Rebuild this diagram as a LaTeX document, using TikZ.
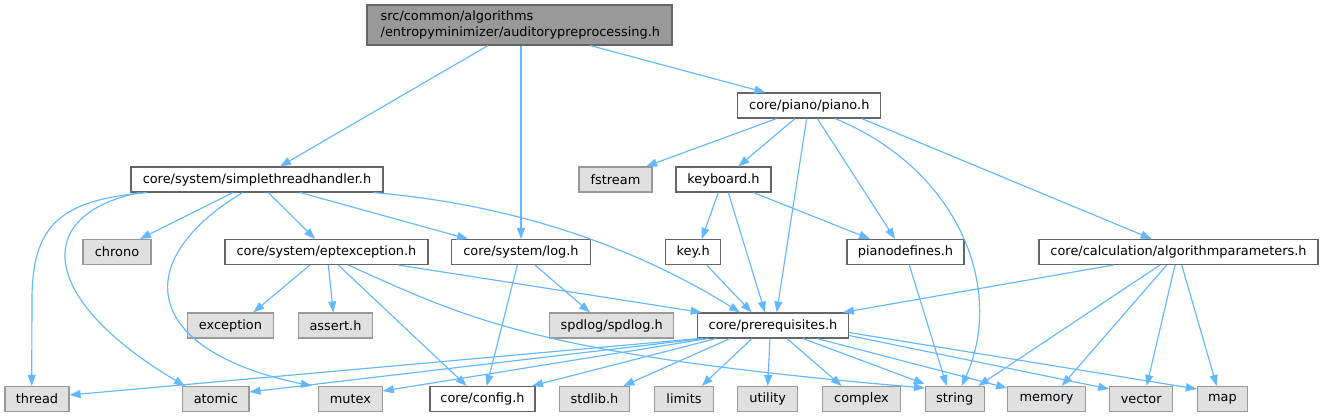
\documentclass[tikz,border=0pt]{standalone}
\usepackage{fontspec}
\setmainfont{DejaVu Sans}
\usetikzlibrary{arrows.meta}
\definecolor{edgec}{HTML}{63B8FF}
\definecolor{boxline}{HTML}{666666}
\definecolor{sysline}{HTML}{999999}
\definecolor{sysfill}{HTML}{E0E0E0}
\definecolor{rootfill}{HTML}{999999}
\begin{document}
\begin{tikzpicture}[x=1pt,y=-1pt,
  font=\fontsize{12.9}{15.5}\selectfont,
  box/.style={draw=boxline, fill=white, line width=1.1pt, minimum height=25pt, inner sep=0pt, anchor=center},
  sys/.style={box, draw=sysline, fill=sysfill},
  rootbox/.style={box, fill=rootfill, minimum height=40pt},
  dep/.style={draw=edgec, line width=1.15pt, -{Triangle[length=11pt,width=8pt]}}]
\fill[white] (0,0) rectangle (1323,417);
\useasboundingbox (0,0) rectangle (1323,417);
% nodes
\node[rootbox, minimum width=305pt] (root) at (519.5,25) {};
\node[anchor=west, align=left, inner sep=0pt] (roottext) at (380.5,25) {src/common/algorithms\\/entropyminimizer/auditorypreprocessing.h};
\node[box, minimum width=143pt] (piano) at (809.3,105.5) {core/piano/piano.h};
\node[box, minimum width=252pt] (sth) at (257,179.5) {core/system/simplethreadhandler.h};
\node[sys, minimum width=73pt] (fstream) at (615.5,179.5) {fstream};
\node[box, minimum width=95pt] (keyboard) at (723.5,179.5) {keyboard.h};
\node[sys, minimum width=68pt] (chrono) at (117,252) {chrono};
\node[box, minimum width=203pt] (ept) at (326.5,252) {core/system/eptexception.h};
\node[box, minimum width=138.6pt] (log) at (521,252) {core/system/log.h};
\node[box, minimum width=55pt] (key) at (693.2,252) {key.h};
\node[box, minimum width=117pt] (pianodefines) at (905.5,252) {pianodefines.h};
\node[box, minimum width=279pt] (alg) at (1178.5,252) {core/calculation/algorithmparameters.h};
\node[sys, minimum width=86.4pt] (exception) at (230.5,325.5) {exception};
\node[sys, minimum width=74.4pt] (assert) at (335.5,325.5) {assert.h};
\node[sys, minimum width=124pt] (spdlog) at (611.7,325.5) {spdlog/spdlog.h};
\node[box, minimum width=150.6pt] (prereq) at (773,325.5) {core/prerequisites.h};
\node[sys, minimum width=64pt] (thread) at (37,399) {thread};
\node[sys, minimum width=66.3pt] (atomic) at (215.8,399) {atomic};
\node[sys, minimum width=63.6pt] (mutex) at (350.5,399) {mutex};
\node[box, minimum width=105pt] (config) at (482.5,399) {core/config.h};
\node[sys, minimum width=70.4pt] (stdlib) at (594.5,399) {stdlib.h};
\node[sys, minimum width=58.6pt] (limits) at (684,399) {limits};
\node[sys, minimum width=60pt] (utility) at (767.7,399) {utility};
\node[sys, minimum width=78.4pt] (complex) at (861.5,399) {complex};
\node[sys, minimum width=58.7pt] (string) at (954.7,399) {string};
\node[sys, minimum width=77.6pt] (memory) at (1046.5,399) {memory};
\node[sys, minimum width=63pt] (vector) at (1141.2,399) {vector};
\node[sys, minimum width=50.4pt] (map) at (1222.5,399) {map};
% root edges
\draw[dep] ([xshift=-31.5pt]root.south) -- ([xshift=23pt]sth.north);
\draw[dep] ([xshift=1.5pt]root.south) -- (log.north);
\draw[dep] ([xshift=70.8pt]root.south) -- ([xshift=-44pt]piano.north);
% piano edges
\draw[dep] ([xshift=-32.6pt]piano.south) -- ([xshift=30.5pt]fstream.north);
\draw[dep] ([xshift=-14.3pt]piano.south) -- ([xshift=14.8pt]keyboard.north);
\draw[dep] ([xshift=-2.6pt]piano.south) -- ([xshift=3.7pt]prereq.north);
\draw[dep] ([xshift=8pt]piano.south) -- ([xshift=-10.5pt]pianodefines.north);
\draw[dep] ([xshift=25.7pt]piano.south) .. controls (960,170) and (1005,290) .. ([xshift=7pt]string.north);
\draw[dep] ([xshift=52.4pt]piano.south) -- ([xshift=-26.8pt]alg.north);
% simplethreadhandler edges
\draw[dep] ([xshift=-110pt]sth.south) .. controls (60,200) and (32,225) .. (32,300) -- ([xshift=-5.3pt]thread.north);
\draw[dep] ([xshift=-117pt]sth.south) .. controls (30,215) and (40,300) .. ([xshift=-30.8pt]atomic.north);
\draw[dep] ([xshift=-24pt]sth.south) -- ([xshift=23pt]chrono.north);
\draw[dep] ([xshift=-14.3pt]sth.south) .. controls (130,260) and (140,350) .. ([xshift=-38.8pt]mutex.north);
\draw[dep] ([xshift=11.3pt]sth.south) -- ([xshift=-11.5pt]ept.north);
\draw[dep] ([xshift=43pt]sth.south) -- ([xshift=-53pt]log.north);
\draw[dep] ([xshift=116.3pt]sth.south) .. controls (520,205) and (640,250) .. ([xshift=-33pt]prereq.north);
% eptexception edges
\draw[dep] ([xshift=-16.5pt]ept.south) -- ([xshift=22.8pt]exception.north);
\draw[dep] ([xshift=1.8pt]ept.south) -- ([xshift=-2.2pt]assert.north);
\draw[dep] ([xshift=11.8pt]ept.south) -- ([xshift=-15.8pt]config.north);
\draw[dep] ([xshift=71.8pt]ept.south) -- ([xshift=-71.3pt]prereq.north);
\draw[dep] ([xshift=21.8pt]ept.south) .. controls (470,320) and (540,355) .. ([yshift=11pt]string.west);
% log edges
\draw[dep] ([xshift=-3.7pt]log.south) -- ([xshift=4.2pt]config.north);
\draw[dep] ([xshift=14pt]log.south) -- ([xshift=-21.7pt]spdlog.north);
% keyboard edges
\draw[dep] ([xshift=-5.2pt]keyboard.south) -- ([xshift=8.5pt]key.north);
\draw[dep] ([xshift=4.8pt]keyboard.south) -- ([xshift=-8pt]prereq.north);
\draw[dep] ([xshift=29.8pt]keyboard.south) -- ([xshift=-35.5pt]pianodefines.north);
% key, pianodefines
\draw[dep] ([xshift=13.5pt]key.south) -- ([xshift=-21.3pt]prereq.north);
\draw[dep] ([xshift=3.8pt]pianodefines.south) -- ([xshift=-8pt]string.north);
% algorithmparameters edges
\draw[dep] ([xshift=-65.2pt]alg.south) -- ([xshift=70pt]prereq.north);
\draw[dep] ([xshift=-18.5pt]alg.south) -- ([xshift=23.6pt]string.north);
\draw[dep] ([xshift=-11.8pt]alg.south) -- ([xshift=15.2pt]memory.north);
\draw[dep] ([xshift=-3.5pt]alg.south) -- ([xshift=5.5pt]vector.north);
\draw[dep] ([xshift=3.2pt]alg.south) -- ([xshift=-5.8pt]map.north);
% prerequisites edges
\draw[dep] ([xshift=-74pt]prereq.south) -- ([yshift=4pt]thread.east);
\draw[dep] ([xshift=-70pt]prereq.south) -- ([yshift=7pt]atomic.east);
\draw[dep] ([xshift=-65pt]prereq.south) -- ([yshift=8pt]mutex.east);
\draw[dep] ([xshift=-57pt]prereq.south) -- ([xshift=49.5pt]config.north);
\draw[dep] ([xshift=-43pt]prereq.south) -- ([xshift=28.8pt]stdlib.north);
\draw[dep] ([xshift=-21pt]prereq.south) -- ([xshift=17.7pt]limits.north);
\draw[dep] ([xshift=-3pt]prereq.south) -- (utility.north);
\draw[dep] ([xshift=14pt]prereq.south) -- ([xshift=-19.8pt]complex.north);
\draw[dep] ([xshift=30pt]prereq.south) -- ([yshift=15pt]string.west);
\draw[dep] ([xshift=44pt]prereq.south) -- ([yshift=11pt]memory.west);
\draw[dep] ([yshift=-10pt]prereq.east) -- ([yshift=10pt]vector.west);
\draw[dep] ([yshift=-7pt]prereq.east) -- ([yshift=10pt]map.west);
\end{tikzpicture}
\end{document}
